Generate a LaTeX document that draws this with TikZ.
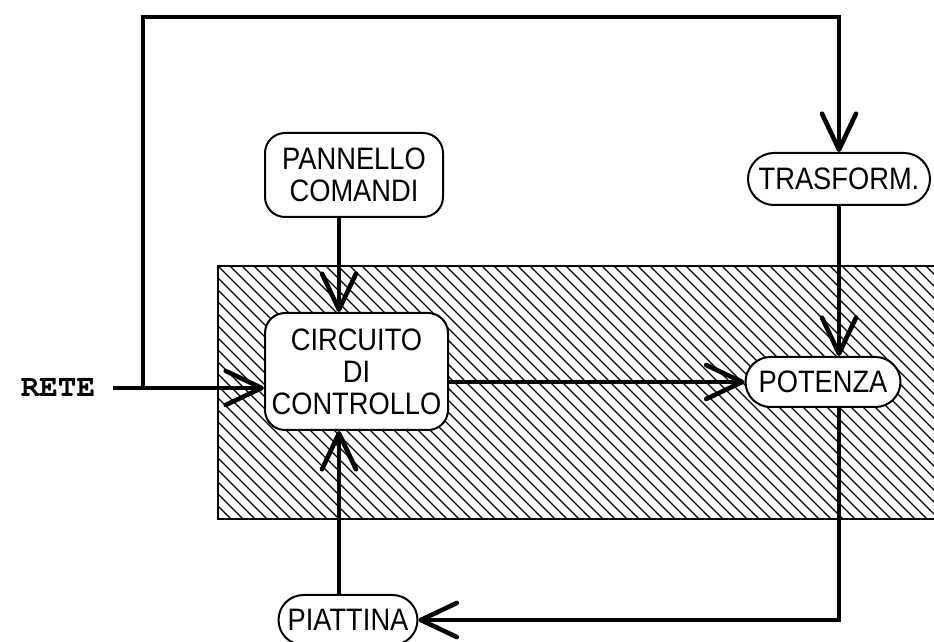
\documentclass[tikz,border=0pt]{standalone}
\usepackage{fontspec}
\newfontfamily\boxfont[FakeStretch=0.88]{Liberation Sans}
\newfontfamily\retefont{TeX Gyre Cursor}
\usetikzlibrary{arrows.meta,positioning,calc}

\begin{document}
\begin{tikzpicture}[x=0.5pt,y=-0.5pt,
  blk/.style={draw,line width=1pt,fill=white,rounded corners=10pt,
              align=center,inner sep=0pt,
              font=\boxfont\fontsize{15.5}{16}\selectfont},
  pill/.style={blk,rounded corners=12.5pt},
  fl/.style={-{Straight Barb[length=18pt,width=17pt,round]},line width=2.3pt},
  wire/.style={line width=2.3pt}]

  \useasboundingbox (0,0) rectangle (934,642);

  % hatched zone
  \begin{scope}
    \clip (218,266) rectangle (934,519);
    \foreach \k in {-25,...,60}
      \draw[line width=0.65pt] (218+\k*12,266) -- ++(260,260);
  \end{scope}
  \draw[line width=1pt] (934,266) -- (218,266) -- (218,519) -- (934,519);

  \node[blk,minimum width=89pt,minimum height=42pt] (pann) at (354,175)
    {PANNELLO\\COMANDI};
  \node[blk,minimum width=91.5pt,minimum height=58.5pt] (circ) at (356.5,371.5)
    {CIRCUITO\\DI\\CONTROLLO};
  \node[pill,rounded corners=13pt,minimum width=91pt,minimum height=26pt]
    (trasf) at (839,179) {TRASFORM.};
  \node[pill,minimum width=77.5pt,minimum height=25pt] (pot) at (823,382)
    {POTENZA};
  \node[pill,minimum width=69.5pt,minimum height=25pt] (piatt) at (348,620)
    {PIATTINA};
  \node[font=\retefont\bfseries\fontsize{15.5}{15.5}\selectfont] (rete)
    at (58,387) {RETE};

  \coordinate (ra) at (113,388);
  \coordinate (rb) at (143,388);
  \coordinate (top) at (143,17);
  \coordinate (cx) at (339,372);

  % mains and feed to the transformer
  \draw[fl] (ra) -- (circ.west |- ra);
  \draw[fl] (rb) -- (top) -| (trasf.north);

  % control
  \draw[fl] (pann.south -| cx) -- (circ.north -| cx);
  \draw[fl] (circ.east |- pot.west) -- (pot.west);
  \draw[fl] (trasf.south) -- (trasf.south |- pot.north);

  % return through the ribbon cable
  \draw[fl] (trasf.south |- pot.south) |- (piatt.east);
  \draw[fl] (piatt.north -| cx) -- (circ.south -| cx);
\end{tikzpicture}
\end{document}
